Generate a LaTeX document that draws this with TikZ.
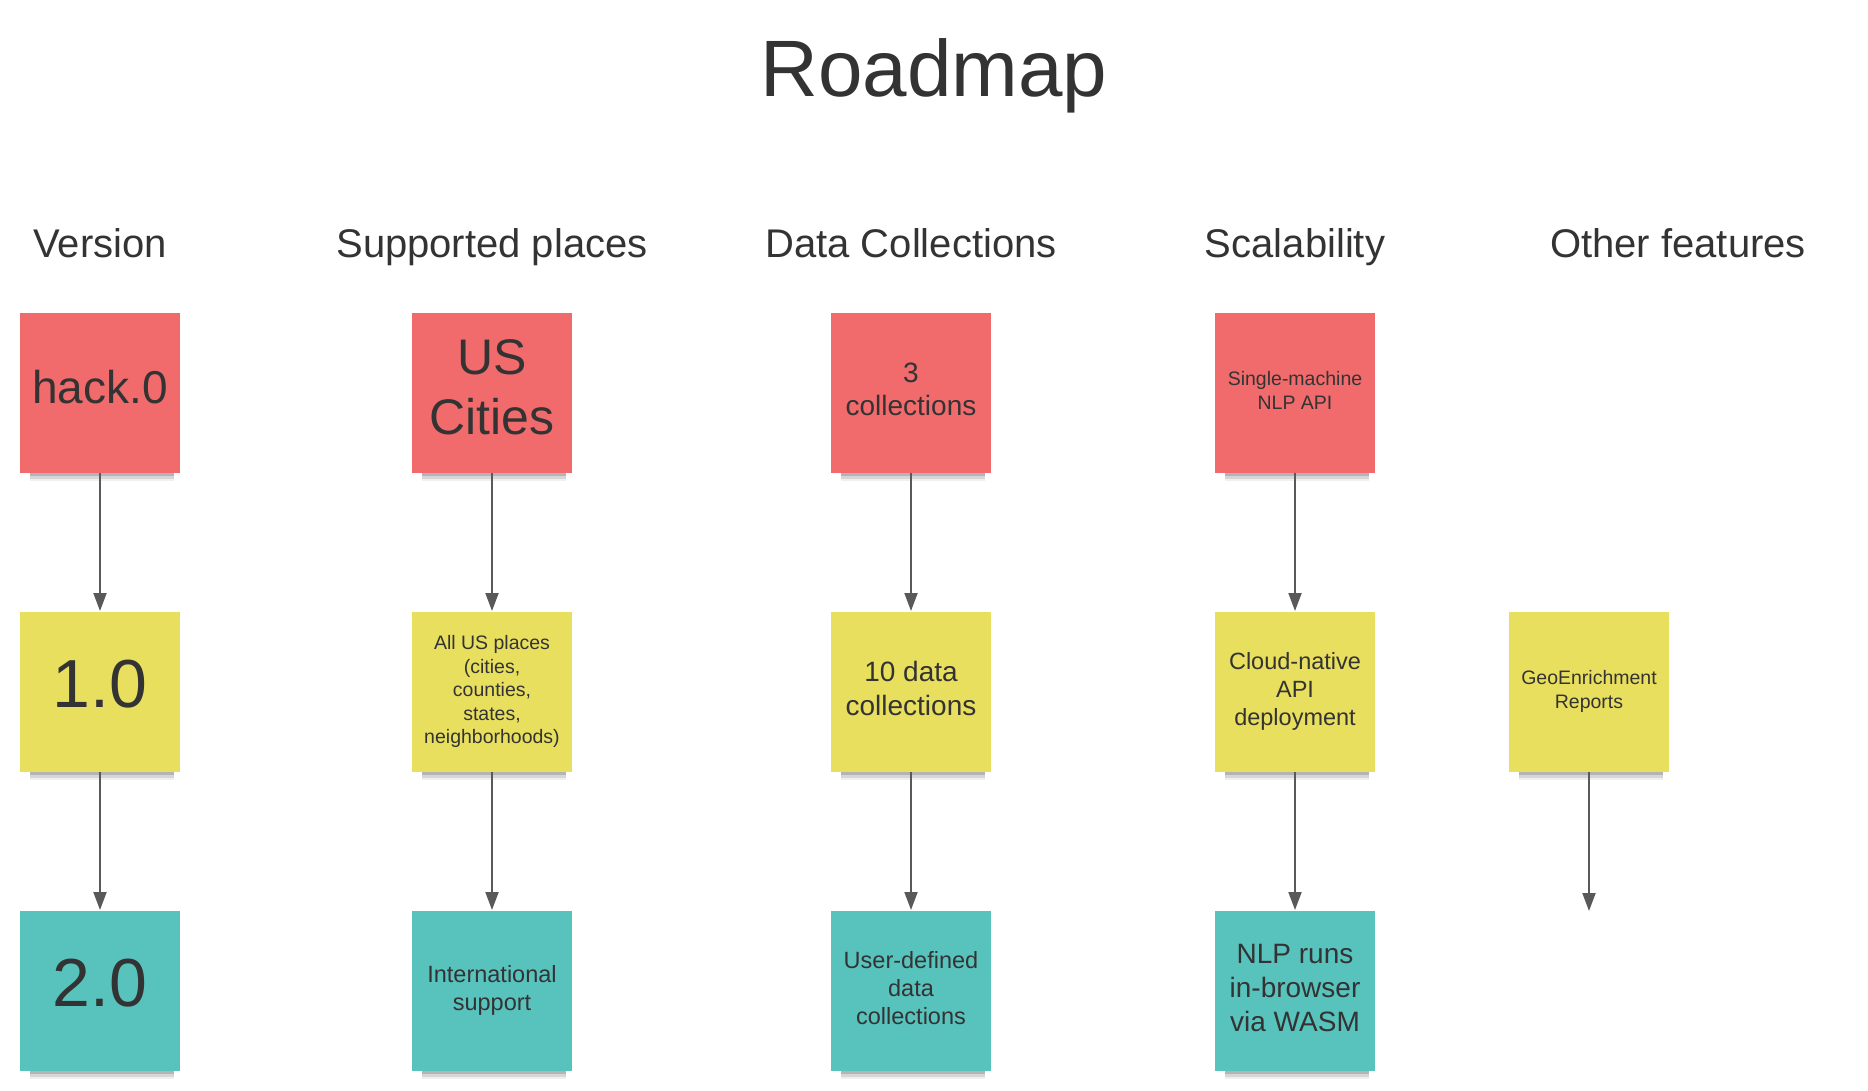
\documentclass[tikz,border=0pt]{standalone}
\usepackage{fontspec}
\setmainfont{Liberation Sans}
\usepackage{tikz}
\usetikzlibrary{positioning,arrows.meta,shadows}
\definecolor{notered}{HTML}{F16B6D}
\definecolor{noteyellow}{HTML}{E9DF5E}
\definecolor{noteteal}{HTML}{58C2BD}
\definecolor{ink}{HTML}{333333}
\definecolor{wire}{HTML}{595959}
\tikzstyle{arrow} = [line width=2pt, draw=wire, -{Triangle[length=18pt, width=13pt, fill=wire]}, shorten >=1pt]
\tikzstyle{head} = [anchor=base, text=ink, font=\fontsize{40}{48}\selectfont]

\begin{document}
\begin{tikzpicture}[x=1pt, y=1pt]
\tikzset{%
	note/.style = {rectangle, minimum size=160pt, inner sep=0pt, outer sep=0pt, align=center, text=ink,
		execute at end node={\rule[-0.25em]{0pt}{0pt}},
		general shadow={fill=black, opacity=0.16, shadow scale=0.9, shadow xshift=2pt, shadow yshift=-12pt},
		general shadow={fill=black, opacity=0.11, shadow scale=0.9, shadow xshift=2pt, shadow yshift=-15pt},
		general shadow={fill=black, opacity=0.06, shadow scale=0.9, shadow xshift=2pt, shadow yshift=-18pt}},
	rednote/.style = {note, fill=notered},
	yellownote/.style = {note, fill=noteyellow},
	tealnote/.style = {note, fill=noteteal}
}
\useasboundingbox (0,0) rectangle (1868,-1090);

\node(title) [anchor=base, text=ink, font=\fontsize{80}{96}\selectfont] at (934,-96) {Roadmap};

\node(ver0) [rednote, font=\fontsize{46}{55}\selectfont] at (100,-393) {hack.0};
\node(ver1) [yellownote, below=139pt of ver0, font=\fontsize{68}{82}\selectfont] {1.0};
\node(ver2) [tealnote, below=139pt of ver1, font=\fontsize{68}{82}\selectfont] {2.0};

\node(plc0) [rednote, right=232pt of ver0, font=\fontsize{50}{60}\selectfont] {US\\Cities};
\node(plc1) [yellownote, below=139pt of plc0, font=\fontsize{19.5}{23.4}\selectfont] {All US places\\(cities,\\counties,\\states,\\neighborhoods)};
\node(plc2) [tealnote, below=139pt of plc1, font=\fontsize{23.5}{28.2}\selectfont] {International\\support};

\node(dat0) [rednote, right=259pt of plc0, font=\fontsize{28}{33.4}\selectfont] {3\\collections};
\node(dat1) [yellownote, below=139pt of dat0, font=\fontsize{28}{33.4}\selectfont] {10 data\\collections};
\node(dat2) [tealnote, below=139pt of dat1, font=\fontsize{23.5}{28.2}\selectfont] {User-defined\\data\\collections};

\node(scl0) [rednote, right=224pt of dat0, font=\fontsize{19.5}{23.4}\selectfont] {Single-machine\\NLP API};
\node(scl1) [yellownote, below=139pt of scl0, font=\fontsize{23.5}{28.2}\selectfont] {Cloud-native\\API\\deployment};
\node(scl2) [tealnote, below=139pt of scl1, font=\fontsize{28}{34}\selectfont] {NLP runs\\in-browser\\via WASM};

\node(oth1) [yellownote, right=134pt of scl1, font=\fontsize{19.5}{23.4}\selectfont] {GeoEnrichment\\Reports};
\coordinate [below=139pt of oth1.south] (othend);

\node(hver) [above=56pt of ver0.north, head] {Version};
\node(hplc) [above=56pt of plc0.north, head] {Supported places};
\node(hdat) [above=56pt of dat0.north, head] {Data Collections};
\node(hscl) [above=56pt of scl0.north, head] {Scalability};
\node(hoth) [head] at (1678,-257) {Other features};

\draw [arrow] (ver0) -- (ver1);
\draw [arrow] (ver1) -- (ver2);
\draw [arrow] (plc0) -- (plc1);
\draw [arrow] (plc1) -- (plc2);
\draw [arrow] (dat0) -- (dat1);
\draw [arrow] (dat1) -- (dat2);
\draw [arrow] (scl0) -- (scl1);
\draw [arrow] (scl1) -- (scl2);
\draw [arrow, shorten >=0pt] (oth1) -- (othend);
\end{tikzpicture}
\end{document}
